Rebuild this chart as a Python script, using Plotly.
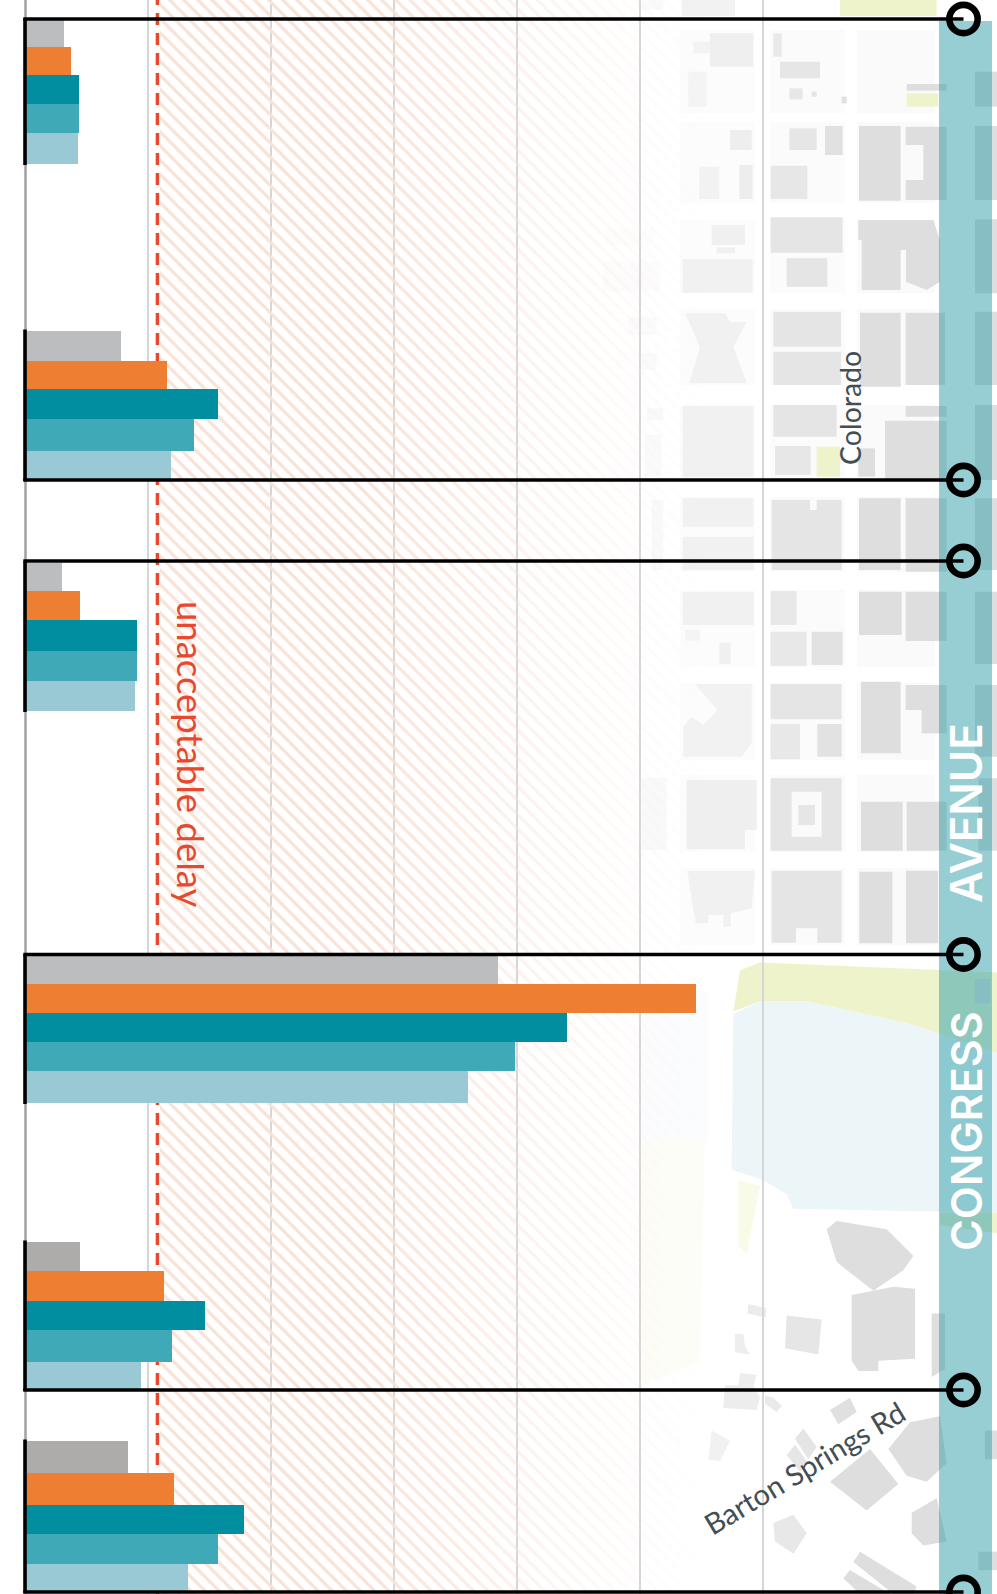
import plotly.graph_objects as go

W, H = 997, 1594
PX_PER_SEC = 1.639
ZERO_PX = 25.5

# ---- data (delay in seconds, one value per approach/group) ----
series_colors = [["#bcbdbf", "#bcbdbf", "#bcbdbf", "#bcbdbf", "#aeabab", "#aeabab"],
                 "#ee7e31", "#008ea0", "#40a9b8", "#99c9d4"]
series_names = ["Series A", "Series B", "Series C", "Series D", "Series E"]
series_a = [23.5, 58.3, 22.3, 288.3, 33.3, 62.5]
series_b = [27.8, 86.3, 33.3, 409.1, 84.5, 90.5]
series_c = [32.6, 117.5, 68.0, 330.4, 109.5, 133.3]
series_d = [32.6, 102.8, 68.0, 298.7, 89.4, 117.4]
series_e = [32.0, 88.8, 66.8, 270.0, 70.5, 99.1]
series_values = [series_a, series_b, series_c, series_d, series_e]

# position of the bar edges along the corridor, one row per group
group_edges = [
    [20, 47, 75, 104, 133, 164],
    [331, 361, 389, 419, 451, 480],
    [563, 591, 620, 651, 681, 711],
    [956, 984, 1013, 1042, 1071, 1103],
    [1242, 1271, 1301, 1330, 1362, 1390],
    [1441, 1473, 1505, 1534, 1564, 1592],
]
frame_all = [19, 480, 561, 954.5, 1390, 1592]
grid_ticks = [75, 150, 225, 300, 375, 450]
unacceptable_delay = 80.5
ring_x = 572.3


def sec(px):
    return (px - ZERO_PX) / PX_PER_SEC


def px_x(px):
    return px / W


def px_y(py):
    return 1 - py / H


shapes = []


def lerp_gray(xc):
    t = max(0.0, min(1.0, (xc - 620) / (860 - 620)))
    g = int(round(254 - (254 - 222) * t))
    return f"rgb({g},{g},{g})"


def poly(pts, color=None):
    xc = sum(p[0] for p in pts) / len(pts)
    path = "M " + " L ".join(f"{px_x(x):.5f},{px_y(y):.5f}" for x, y in pts) + " Z"
    shapes.append(dict(type="path", xref="paper", yref="paper", path=path, layer="below",
                       line=dict(width=0), fillcolor=color or lerp_gray(xc)))


def rect(x0, y0, x1, y1, color=None):
    poly([(x0, y0), (x1, y0), (x1, y1), (x0, y1)], color)


# ---- map background, read from zooms ----
def Z8(p):
    return (560 + p[0] / 3, p[1] / 3)


def Z9(p):
    return (560 + p[0] / 3, 480 + p[1] / 3)


def Z10(p):
    return (560 + p[0] / 3, 950 + p[1] / 2.435)


def zr(f, x0, y0, x1, y1, color=None):
    rect(*f((x0, y0)), *f((x1, y1)), color)


def zp(f, pts, color=None):
    poly([f(p) for p in pts], color)


# pale city blocks
block_rows = [(30, 113), (122, 203), (220, 293), (309, 385), (405, 478), (497, 572), (590, 667),
              (683, 760), (775, 852), (868, 945)]
for r0, r1 in block_rows:
    for c0, c1, col in [(680, 755, "#fcfcfc"), (770, 845, "#fbfbfb"), (857, 935, "#fafafa")]:
        rect(c0, r0, c1, r1, col)

# lake and parkland
GREEN = "#eff3cb"
WATER = "#ecf5f7"
zp(Z10, [(245, 100), (445, 100), (445, 470), (330, 455), (245, 475)], "#fbfcfe")
zp(Z10, [(245, 475), (330, 455), (435, 465), (420, 1000), (245, 1060)], "#fdfdf7")
zp(Z10, [(520, 150), (540, 50), (600, 30), (1311, 55), (1311, 250), (1050, 180), (740, 125), (600, 125)], GREEN)
zp(Z10, [(520, 155), (600, 125), (740, 125), (1050, 180), (1311, 250), (1311, 640), (700, 630), (680, 595),
         (610, 560), (515, 535)], WATER)
zp(Z10, [(1140, 640), (1311, 640), (1311, 690), (1140, 670)], GREEN)
zp(Z10, [(535, 560), (600, 575), (560, 740), (535, 720)], "#f9fbe9")
zr(Z8, 840, 0, 1130, 48, GREEN)
zr(Z8, 1040, 280, 1135, 320, GREEN)
zr(Z8, 770, 1340, 840, 1430, GREEN)

z8_rects = [(245, 0, 310, 30), (365, 0, 525, 48), (450, 100, 580, 200), (400, 125, 450, 160), (385, 215, 440, 320),
            (510, 390, 575, 450), (418, 500, 478, 597), (538, 495, 578, 597), (455, 675, 555, 735),
            (470, 742, 525, 760), (368, 778, 578, 878), (368, 1218, 580, 1430),
            (135, 685, 285, 735), (130, 785, 300, 875), (205, 950, 290, 1005), (175, 1050, 205, 1105),
            (245, 1060, 290, 1110), (260, 1225, 310, 1260), (255, 1305, 305, 1430),
            (640, 100, 665, 170), (660, 185, 780, 235), (688, 265, 728, 298), (755, 275, 770, 290), (845, 290, 860, 310),
            (688, 385, 770, 450), (795, 378, 848, 465), (632, 497, 742, 597), (632, 652, 848, 758), (680, 775, 802, 860),
            (640, 935, 843, 1040), (640, 1055, 843, 1155), (640, 1215, 830, 1310), (645, 1338, 752, 1425),
            (1040, 252, 1160, 272), (897, 378, 1022, 602), (900, 938, 1022, 1160), (1037, 938, 1155, 1155),
            (975, 1262, 1160, 1440), (1037, 1218, 1160, 1250), (895, 1345, 945, 1430),
            (1245, 215, 1311, 320), (1245, 378, 1311, 600), (1245, 658, 1311, 880), (1245, 935, 1311, 1155),
            (1245, 1215, 1311, 1440)]
for r in z8_rects:
    zr(Z8, *r)
zp(Z8, [(1037, 380), (1160, 380), (1160, 600), (1037, 600), (1037, 540), (1090, 540), (1090, 435), (1037, 435)])
zp(Z8, [(375, 940), (495, 940), (510, 965), (560, 965), (520, 1040), (560, 1150), (388, 1150), (420, 1040)])
zp(Z8, [(895, 660), (1120, 660), (1140, 720), (1140, 845), (1100, 870), (1038, 845), (1038, 750), (1022, 750),
        (1022, 870), (905, 870), (905, 720), (895, 720)])

z9_rects = [(368, 55, 580, 140), (368, 170, 580, 270), (897, 55, 1022, 270), (1037, 55, 1160, 275), (1245, 55, 1311, 270),
            (368, 335, 582, 435), (375, 450, 420, 482), (478, 488, 512, 552), (632, 333, 710, 435), (632, 455, 740, 558),
            (755, 455, 848, 555), (897, 335, 1025, 465), (1037, 335, 1160, 483), (1245, 335, 1311, 552),
            (632, 612, 845, 718), (632, 732, 720, 838), (772, 732, 845, 830), (903, 605, 1022, 820),
            (1037, 615, 1160, 690), (1085, 690, 1160, 760), (1245, 615, 1311, 830),
            (903, 965, 1028, 1112), (1040, 965, 1160, 1112), (1255, 895, 1311, 1112),
            (898, 1175, 997, 1390), (1038, 1172, 1135, 1390), (245, 895, 320, 1110), (275, 60, 310, 270)]
for r in z9_rects:
    zr(Z9, *r)
zp(Z9, [(635, 60), (750, 60), (750, 90), (770, 90), (770, 60), (845, 60), (845, 270), (635, 270)])
zp(Z9, [(405, 612), (575, 612), (575, 790), (545, 830), (370, 830), (370, 740), (395, 710), (430, 735), (472, 690)])
zp(Z9, [(380, 900), (590, 900), (590, 1050), (555, 1050), (555, 1108), (380, 1108)])
zr(Z9, 632, 895, 845, 1112)
zr(Z9, 695, 935, 785, 1070, "#fafafa")
zr(Z9, 715, 975, 765, 1035, lerp_gray(800))
zp(Z9, [(382, 1172), (585, 1172), (575, 1285), (512, 1300), (512, 1340), (490, 1340), (490, 1305), (445, 1305),
        (445, 1330), (408, 1330), (400, 1290)])
zp(Z9, [(635, 1172), (845, 1172), (845, 1388), (772, 1388), (772, 1345), (708, 1345), (708, 1388), (635, 1388)])

z10_polys = [
    [(800, 680), (830, 660), (980, 680), (1060, 745), (1030, 780), (940, 830), (830, 760)],
    [(875, 840), (1000, 820), (1065, 825), (1065, 995), (955, 1000), (955, 1025), (895, 1025), (875, 1000)],
    [(1115, 885), (1155, 885), (1155, 1020), (1115, 1040)],
    [(680, 890), (785, 900), (775, 985), (675, 970)],
    [(565, 862), (620, 872), (617, 895), (562, 885)],
    [(525, 935), (550, 935), (555, 965), (570, 985), (525, 980)],
    [(540, 1030), (590, 1035), (580, 1060), (600, 1090), (590, 1120), (490, 1115), (495, 1060), (535, 1060)],
    [(615, 1085), (640, 1090), (665, 1110), (650, 1125), (615, 1105)],
    [(810, 1120), (870, 1090), (890, 1125), (835, 1155)],
    [(705, 1190), (730, 1165), (770, 1210), (745, 1240)],
    [(680, 1230), (705, 1205), (745, 1250), (720, 1270)],
    [(455, 1170), (510, 1195), (480, 1245), (445, 1240)],
    [(985, 1215), (1050, 1150), (1140, 1135), (1160, 1250), (1100, 1295), (1040, 1280)],
    [(810, 1295), (930, 1215), (1015, 1300), (920, 1365)],
    [(640, 1395), (700, 1375), (740, 1420), (700, 1470), (645, 1440)],
    [(1055, 1370), (1130, 1335), (1160, 1440), (1090, 1450), (1055, 1420)],
    [(880, 1490), (900, 1465), (1070, 1550), (1060, 1568), (1000, 1568)],
    [(850, 1530), (870, 1510), (990, 1568), (900, 1568)],
    [(1245, 70), (1290, 70), (1290, 130), (1245, 130)],
    [(1275, 1170), (1311, 1170), (1311, 1240), (1275, 1240)],
    [(1255, 1465), (1311, 1465), (1311, 1510), (1255, 1510)],
]
for pts in z10_polys:
    zp(Z10, pts)

# Congress Avenue band
rect(939, 21, 992, H, "rgba(49,159,170,0.51)")

# unacceptable delay threshold: drawn on the data scale, under the bars
shapes.append(dict(type="line", xref="x", yref="y", layer="between", x0=unacceptable_delay, x1=unacceptable_delay,
                   y0=-7, y1=H, line=dict(color="#e8492e", width=3.5, dash="12px,8px")))

# ---- traces ----
fig = go.Figure()

# hatched zone beyond the unacceptable-delay line, fading to the right
strip_edges = [159.5, 380] + list(range(400, 721, 20))
strip_base, strip_len, strip_op = [], [], []
n = len(strip_edges) - 1
for i in range(n):
    a, b = strip_edges[i], strip_edges[i + 1]
    strip_base.append(sec(a))
    strip_len.append((b - a) / PX_PER_SEC)
    strip_op.append(round((1 - i / n) ** 1.5, 3))
fig.add_trace(go.Bar(
    orientation="h", y=[H / 2] * n, x=strip_len, base=strip_base, width=H + 4, hoverinfo="skip", showlegend=False,
    marker=dict(color="rgba(0,0,0,0)", line=dict(width=0), opacity=strip_op,
                pattern=dict(shape="\\", fgcolor="#f9e2d7", bgcolor="rgba(251,249,248,0)", size=10, solidity=0.32,
                             fillmode="replace")),
))

# delay bars
n_series = len(series_values)
group_centre = [(e[0] + e[-1]) / 2 for e in group_edges]
for i, (name, vals, col) in enumerate(zip(series_names, series_values, series_colors)):
    widths = [e[i + 1] - e[i] for e in group_edges]
    offsets = [e[i] - (e[0] + e[-1]) / 2 for e in group_edges]
    fig.add_trace(go.Bar(orientation="h", name=name, x=vals, y=group_centre, width=widths, offset=offsets,
                         marker=dict(color=col, line=dict(width=0)), showlegend=False))

# zero axis and the group brackets
fig.add_trace(go.Scatter(x=[0, 0], y=[0, H], mode="lines", line=dict(color="#a1a1a5", width=2.5),
                         hoverinfo="skip", showlegend=False))
vx, vy = [], []
for e in group_edges:
    vx += [-0.3, -0.3, None]
    vy += [e[0] - 1.5, e[-1] + 1, None]
fig.add_trace(go.Scatter(x=vx, y=vy, mode="lines", line=dict(color="#000000", width=3.6), hoverinfo="skip",
                         showlegend=False))
hx, hy = [], []
for f in frame_all:
    hx += [sec(23.3), ring_x, None]
    hy += [f, f, None]
fig.add_trace(go.Scatter(x=hx, y=hy, mode="lines", line=dict(color="#000000", width=3.5), hoverinfo="skip",
                         showlegend=False))
fig.add_trace(go.Scatter(x=[ring_x] * len(frame_all), y=frame_all, mode="markers", cliponaxis=False,
                         marker=dict(symbol="circle", size=28.3, color="rgba(0,0,0,0)",
                                     line=dict(color="#000000", width=6.6)),
                         hoverinfo="skip", showlegend=False))


def label(text, x, y, size, color, angle, family="Lato", weight=None):
    f = dict(family=family, size=size, color=color)
    if weight:
        f["weight"] = weight
    return dict(text=text, xref="paper", yref="paper", x=px_x(x), y=px_y(y), xanchor="center", yanchor="middle",
                showarrow=False, textangle=angle, font=f)


annotations = [
    label("unacceptable delay", 191, 754, 36.5, "#e8492e", 90),
    label("CONGRESS", 966, 1131, 43, "#ffffff", -90, family="Inter", weight=600),
    label("AVENUE", 966, 813, 44, "#ffffff", -90, family="Inter", weight=600),
    label("Colorado", 850, 408, 28.5, "#434e54", -90),
    label("Barton Springs Rd", 804, 1467, 29, "#434e54", -31),
]

fig.update_layout(
    width=W, height=H, margin=dict(l=0, r=0, t=0, b=0), paper_bgcolor="#ffffff", plot_bgcolor="rgba(0,0,0,0)",
    barmode="overlay", bargap=0, showlegend=False, shapes=shapes, annotations=annotations,
    xaxis=dict(range=[-ZERO_PX / PX_PER_SEC, (W - ZERO_PX) / PX_PER_SEC], tickvals=grid_ticks, showticklabels=False,
               ticks="", showgrid=True, gridcolor="#d6d6d6", gridwidth=1.5, zeroline=False, showline=False,
               domain=[0, 1]),
    yaxis=dict(range=[H, 0], showgrid=False, showticklabels=False, ticks="", zeroline=False, showline=False,
               domain=[0, 1]),
)

fig.write_html("out.html", config={"displayModeBar": False},
               post_script="document.body.style.margin='0';document.body.style.overflow='hidden';")
